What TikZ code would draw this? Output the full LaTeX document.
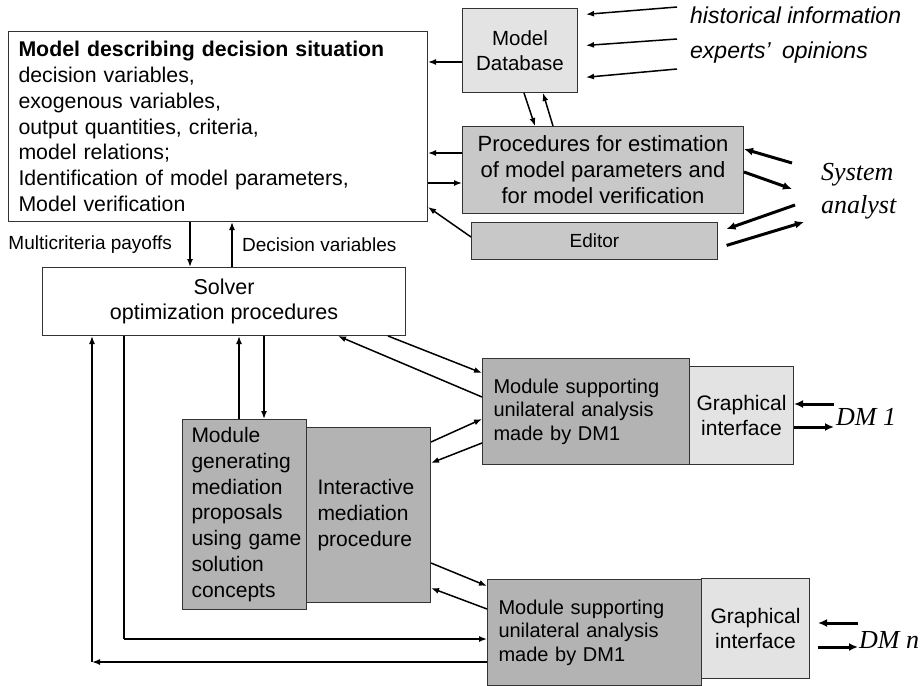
\documentclass[tikz,border=0pt]{standalone}
\usepackage{fontspec}
\setmainfont{Liberation Sans}
\newfontfamily\tnr{Liberation Serif}
\usetikzlibrary{arrows.meta}
\definecolor{lgray}{HTML}{E3E3E3}
\definecolor{mgray}{HTML}{C8C8C8}
\definecolor{dgray}{HTML}{B3B3B3}
\definecolor{edge}{HTML}{333333}
\tikzset{
  box/.style={draw=edge, line width=1pt, rectangle, inner sep=0pt, anchor=north west},
  lbox/.style={box, align=left},
  cbox/.style={box, align=center},
  conn/.style={line width=1.5pt, -{Latex[length=8pt,width=6pt]}},
  thinconn/.style={line width=1.1pt, -{Latex[length=8pt,width=6pt]}},
  boldconn/.style={line width=3pt, -{Latex[length=9pt,width=8pt]}},
  lbl/.style={inner sep=0pt, font=\fontsize{19}{22}\selectfont},
  ital/.style={inner sep=0pt, anchor=base west, font=\fontsize{23}{26}\selectfont\itshape},
  tnrital/.style={inner sep=0pt, anchor=base west, font=\fontsize{26}{36}\selectfont\tnr\itshape}
}
\begin{document}
\begin{tikzpicture}[x=1pt,y=-1pt]
\useasboundingbox[fill=white] (0,0) rectangle (923,685);

% ---- boxes ----
\node[lbox, fill=white, minimum height=190pt, text width=399pt, inner xsep=10pt,
      font=\fontsize{21.3}{25.8}\selectfont] (model) at (8,31)
  {\textbf{Model describing decision situation}\\decision variables,\\exogenous variables,\\output quantities, criteria,\\model relations;\\Identification of model parameters,\\Model verification};

\node[cbox, fill=lgray, minimum width=115pt, minimum height=84pt,
      font=\fontsize{20.5}{25}\selectfont] (db) at (462,8) {Model\\Database};

\node[cbox, fill=mgray, minimum width=281pt, minimum height=87pt,
      font=\fontsize{22}{26}\selectfont] (proc) at (462,126)
  {Procedures for estimation\\of model parameters and\\for model verification};

\node[cbox, fill=mgray, minimum width=246pt, minimum height=37pt,
      font=\fontsize{19}{23}\selectfont] (editor) at (471,222) {Editor};

\node[cbox, fill=white, minimum width=363pt, minimum height=68pt,
      font=\fontsize{21.5}{25.5}\selectfont] (solver) at (42,267)
  {Solver\\optimization procedures};

\node[lbox, fill=dgray, minimum height=175pt, text width=102pt, inner xsep=11pt,
      font=\fontsize{21}{25.7}\selectfont] (inter) at (306,427)
  {Interactive\\mediation\\procedure};

\node[lbox, fill=dgray, minimum height=190pt, text width=106pt, inner xsep=9pt,
      font=\fontsize{21}{25.7}\selectfont] (modgen) at (182,419)
  {Module\\generating\\mediation\\proposals\\\mbox{using game}\\solution\\concepts};

\node[lbox, fill=dgray, minimum height=106pt, text width=185pt, inner xsep=11pt,
      font=\fontsize{20}{23.5}\selectfont] (dmone) at (482,358)
  {Module supporting\\unilateral analysis\\made by DM1};

\node[cbox, fill=lgray, minimum width=104pt, minimum height=98pt,
      font=\fontsize{21}{25}\selectfont] (gione) at (689,366)
  {Graphical\\interface};

\node[lbox, fill=dgray, minimum height=106pt, text width=192pt, inner xsep=11pt,
      font=\fontsize{20}{23.5}\selectfont] (dmn) at (487,579)
  {Module supporting\\unilateral analysis\\made by DM1};

\node[cbox, fill=lgray, minimum width=108pt, minimum height=100pt,
      font=\fontsize{21}{25}\selectfont] (gin) at (701,578)
  {Graphical\\interface};

% ---- free texts ----
\node[ital] (hist) at (690,24) {historical information};
\node[ital] (expo) at (690,59) {experts’\hspace{5pt} opinions};
\node[tnrital] (sys) at (821,180) {System};
\node[tnrital] (ana) at (821,213) {analyst};
\node[tnrital] (dmonet) at (836,425) {DM 1};
\node[tnrital] (dmnt) at (859,648) {DM n};
\node[lbl, anchor=east] (mcp) at (172,245) {Multicriteria payoffs};
\node[lbl, anchor=west] (dvl) at (242,245) {Decision variables};

% ---- free ends ----
\coordinate (h1) at (677,7);
\coordinate (h2) at (677,39);
\coordinate (h3) at (677,69);
\coordinate (sa1) at (792,163);
\coordinate (sa2) at (792,189);
\coordinate (sa3) at (795,205);
\coordinate (sa4) at (804,222);
\coordinate (d1a) at (834,404);
\coordinate (d1b) at (834,427);
\coordinate (dna) at (858,623);
\coordinate (dnb) at (858,647);
\coordinate (c1) at (124,639);
\coordinate (c2) at (92,662);

% ---- connectors ----
\draw[conn, shorten >=8pt] (h1) -- (db.east |- 0,15);
\draw[conn, shorten >=8pt] (h2) -- (db.east |- 0,46);
\draw[conn, shorten >=8pt] (h3) -- (db.east |- 0,78);

\draw[conn] (db.west |- 0,62) -- (model.east |- 0,62);
\draw[conn] (db.south -| 524,0) -- (proc.north -| 535,0);
\draw[conn] (proc.north -| 553,0) -- (db.south -| 543,0);

\draw[conn] (proc.west |- 0,153) -- (model.east |- 0,153);
\draw[conn] (model.east |- 0,183) -- (proc.west |- 0,183);
\draw[conn] (editor.west |- 0,237) -- (model.east |- 0,207);

\draw[boldconn] (sa1) -- (proc.east |- 0,149);
\draw[boldconn] (proc.east |- 0,172) -- (sa2);
\draw[boldconn, shorten >=9pt] (sa3) -- (editor.east |- 0,232);
\draw[boldconn, shorten <=9pt] (editor.east |- 0,248) -- (sa4);

\draw[conn] (model.south -| 190,0) -- (solver.north -| 190,0);
\draw[conn] (solver.north -| 232,0) -- (model.south -| 232,0);

\draw[conn] (solver.south -| 388,0) -- (dmone.west |- 0,373);
\draw[conn] (dmone.west |- 0,397) -- (solver.south -| 338,0);

\draw[conn] (modgen.north -| 239,0) -- (solver.south -| 239,0);
\draw[conn] (solver.south -| 264,0) -- (modgen.north -| 264,0);

\draw[conn] (inter.east |- 0,442) -- (dmone.west |- 0,419);
\draw[conn] (dmone.west |- 0,443) -- (inter.east |- 0,463);
\draw[conn] (inter.east |- 0,563) -- (dmn.west |- 0,586);
\draw[conn] (dmn.west |- 0,609) -- (inter.east |- 0,588);

\draw[line width=1.1pt] (solver.south -| 124,0) -- (c1);
\draw[conn] (c1) -- (dmn.west |- c1);
\draw[conn] (dmn.west |- c2) -- (c2);
\draw[conn] (c2) -- (solver.south -| c2);

\draw[boldconn] (d1a) -- (gione.east |- d1a);
\draw[boldconn] (gione.east |- d1b) -- (d1b);
\draw[boldconn, shorten >=8pt] (dna) -- (gin.east |- dna);
\draw[boldconn, shorten <=8pt] (gin.east |- dnb) -- (dnb);
\end{tikzpicture}
\end{document}
